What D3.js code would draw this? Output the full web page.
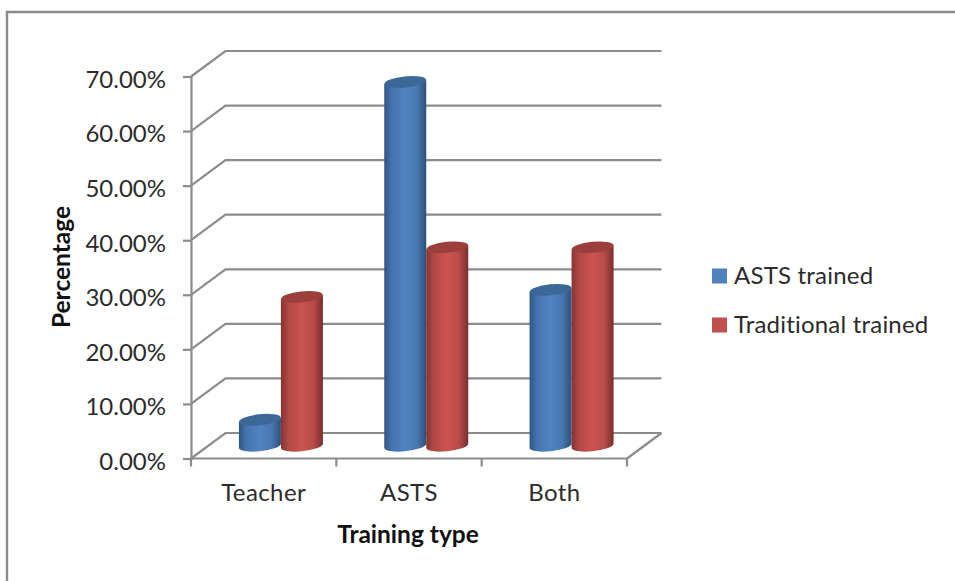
<!DOCTYPE html>
<html>
<head>
<meta charset="utf-8">
<script src="https://cdn.jsdelivr.net/npm/d3@7"></script>
<style>
html, body { margin: 0; padding: 0; background: #fff; }
svg { display: block; }
text { font-family: Lato, "Open Sans", sans-serif; fill: #2b2b2b; }
</style>
</head>
<body>
<svg id="chart" width="955" height="581"></svg>
<script>
// Survey results by training type
const categories = ["Teacher", "ASTS", "Both"];
const seriesNames = ["ASTS trained", "Traditional trained"];
const astsTrained = [4.76, 66.67, 28.57];
const traditionalTrained = [27.27, 36.36, 36.36];
const yTicks = [0, 10, 20, 30, 40, 50, 60, 70];

const svg = d3.select("#chart");
const W = 955, H = 581;

// Front plane of the 3-D box and the offset to its back wall
const front = { left: 191, right: 627, bottom: 458.5, top: 76.5 };
const depth = { dx: 34.5, dy: -25.5 };
const gridColor = "#8c8c8c";

const x = d3.scaleBand().domain(categories).range([front.left, front.right]);
const y = d3.scaleLinear().domain([0, 70]).range([front.bottom, front.top]);
const inner = d3.scaleBand().domain(seriesNames).range([-42, 42]);

// Outer frame: only the top and left edges fall inside the page
svg.append("path")
  .attr("d", `M7,${H}V12H${W}`)
  .attr("fill", "none").attr("stroke", "#8a8a8a").attr("stroke-width", 2.4);

const defs = svg.append("defs");
const palettes = [
  { id: "cyl-blue", edgeL: "#2f5682", mid: "#5184c4", edgeR: "#2d5078", top: "#3c6898", swatch: "#4f81bd" },
  { id: "cyl-red", edgeL: "#843432", mid: "#cb5451", edgeR: "#7a2f2d", top: "#9a3f3c", swatch: "#c0504d" }
];
palettes.forEach(p => {
  const g = defs.append("linearGradient").attr("id", p.id)
    .attr("x1", 0).attr("x2", 1).attr("y1", 0).attr("y2", 0);
  [[0, p.edgeL], [0.18, d3.interpolateRgb(p.edgeL, p.mid)(0.65)], [0.5, p.mid],
   [0.78, d3.interpolateRgb(p.edgeR, p.mid)(0.75)], [1, p.edgeR]].forEach(([o, c]) =>
    g.append("stop").attr("offset", o).attr("stop-color", c));
});

// Floor and back-wall gridlines
const grid = svg.append("g").attr("fill", "none").attr("stroke", gridColor).attr("stroke-width", 2.2);
grid.selectAll("path.wall").data(yTicks).join("path").attr("class", "wall")
  .attr("d", v => `M${front.left},${y(v)}l${depth.dx},${depth.dy}H${front.right + depth.dx}`);
grid.append("path")
  .attr("d", `M${front.right},${front.bottom}l${depth.dx},${depth.dy}`);

// Value axis
const yAxis = d3.axisLeft(y).tickValues(yTicks).tickSize(8).tickPadding(17)
  .tickFormat(v => v.toFixed(2) + "%");
const yG = svg.append("g").attr("transform", `translate(${front.left},0)`).call(yAxis);
yG.selectAll("path.domain").attr("stroke", gridColor).attr("stroke-width", 2.2);
yG.selectAll(".tick line").attr("stroke", gridColor).attr("stroke-width", 2.2);
yG.selectAll("text").attr("font-size", 24).attr("font-family", "Lato").attr("fill", "#2b2b2b").attr("dy", "0.45em");

// Category axis: tick marks sit on the band boundaries, labels at band centres
const xAxis = d3.axisBottom(x).tickSize(0).tickPadding(25.5);
const xG = svg.append("g").attr("transform", `translate(0,${front.bottom})`).call(xAxis);
xG.select("path.domain").remove();
xG.selectAll("text").attr("font-size", 24).attr("font-family", "Lato").attr("fill", "#2b2b2b")
  .attr("letter-spacing", 0.4);
const boundaries = categories.map(c => x(c)).concat(front.right);
svg.append("g").selectAll("line").data(boundaries).join("line")
  .attr("x1", d => d).attr("x2", d => d)
  .attr("y1", front.bottom).attr("y2", front.bottom + 8)
  .attr("stroke", gridColor).attr("stroke-width", 2.2);
svg.append("line")
  .attr("x1", front.left).attr("x2", front.right)
  .attr("y1", front.bottom).attr("y2", front.bottom)
  .attr("stroke", gridColor).attr("stroke-width", 2.2);

// Cylinders stand half way into the box
const rx = 21, ry = 5.5, tilt = 2, angle = -6;
const baseY = front.bottom + depth.dy / 2;
const lift = v => y(0) - y(v);
const barData = [astsTrained, traditionalTrained].flatMap((vals, s) =>
  vals.map((v, i) => ({
    v, s,
    cx: x(categories[i]) + x.bandwidth() / 2 + depth.dx / 2 + inner(seriesNames[s]) + inner.bandwidth() / 2
  })));
// Left to right, so each cylinder overlaps its left neighbour
barData.sort((a, b) => a.cx - b.cx);

const bars = svg.append("g").selectAll("g").data(barData).join("g");
bars.append("path")
  .attr("fill", d => `url(#${palettes[d.s].id})`)
  .attr("d", d => {
    const top = baseY - lift(d.v);
    return `M${d.cx - rx},${top + tilt}V${baseY + tilt}` +
      `A${rx},${ry} ${angle} 0 0 ${d.cx + rx},${baseY - tilt}V${top - tilt}Z`;
  });
bars.append("ellipse")
  .attr("rx", rx).attr("ry", ry)
  .attr("fill", d => palettes[d.s].top)
  .attr("transform", d => `translate(${d.cx},${baseY - lift(d.v)}) rotate(${angle})`);

// Axis titles
svg.append("text").attr("x", 408).attr("y", 543).attr("text-anchor", "middle")
  .attr("font-size", 24.5).attr("font-weight", 700).attr("fill", "#111").style("fill", "#111").text("Training type");
svg.append("text").attr("transform", "translate(70,267) rotate(-90)").attr("text-anchor", "middle")
  .attr("font-size", 24.5).attr("font-weight", 700).style("fill", "#111").text("Percentage");

// Legend
const legend = svg.append("g").selectAll("g").data(seriesNames).join("g")
  .attr("transform", (d, i) => `translate(712,${268.5 + i * 49})`);
legend.append("rect").attr("width", 15).attr("height", 15)
  .attr("fill", (d, i) => palettes[i].swatch);
legend.append("text").attr("x", 22).attr("y", 15).attr("font-size", 24).attr("letter-spacing", 0.2).text(d => d);
</script>
</body>
</html>
